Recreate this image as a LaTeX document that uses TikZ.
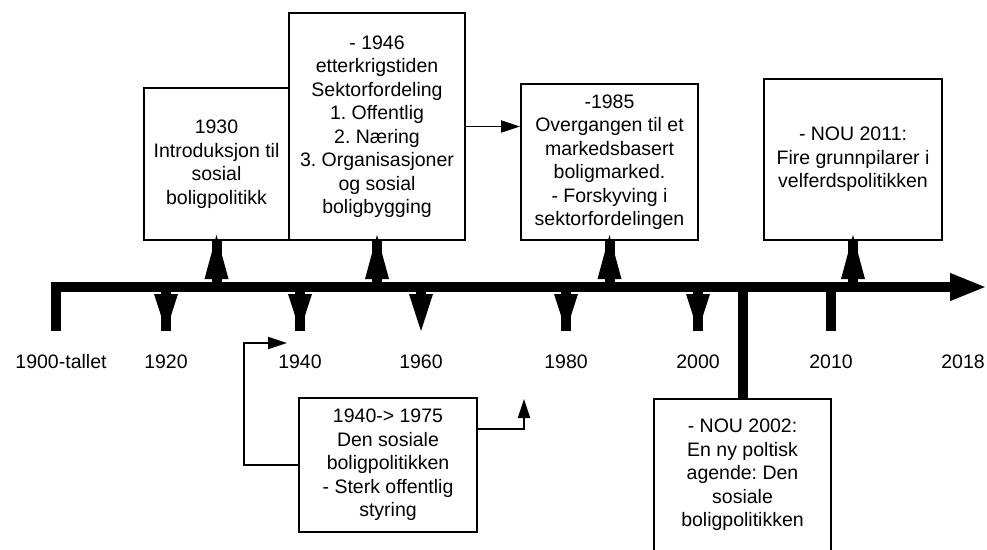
\documentclass[tikz,border=0pt]{standalone}
\usepackage{fontspec}
\setmainfont{Liberation Sans}
\usetikzlibrary{arrows.meta}
\frenchspacing
\begin{document}
\begin{tikzpicture}[x=1pt,y=-1pt,
  box/.style={draw=black,line width=1.8pt,rectangle,inner sep=0pt,align=center,
    font=\fontsize{19.5}{23.5}\selectfont\frenchspacing},
  year/.style={inner sep=0pt,font=\fontsize{19.5}{23.5}\selectfont},
  conn/.style={line width=1.8pt,-{Triangle[length=19pt,width=12pt]}},
  thick/.style={line width=10pt},
]
\useasboundingbox (0,0) rectangle (987,549);
% boxes
\node[box,minimum width=145pt,minimum height=152pt] (b1930) at (216.5,164)
  {1930\\Introduksjon til\\sosial\\boligpolitikk};
\node[box,minimum width=176pt,minimum height=227pt] (b1946) at (377,126.5)
  {- 1946\\etterkrigstiden\\Sektorfordeling\\1. Offentlig\\2. Næring\\3. Organisasjoner\\og sosial\\boligbygging};
\node[box,minimum width=177pt,minimum height=156pt] (b1985) at (609.5,162)
  {-1985\\Overgangen til et\\markedsbasert\\boligmarked.\\- Forskyving i\\sektorfordelingen};
\node[box,minimum width=178pt,minimum height=161pt] (b2011) at (853,159.5)
  {- NOU 2011:\\Fire grunnpilarer i\\velferdspolitikken};
\node[box,minimum width=178pt,minimum height=134pt] (b1940) at (388,465)
  {1940-> 1975\\Den sosiale\\boligpolitikken\\- Sterk offentlig\\styring};
\node[box,minimum width=177pt,minimum height=152pt] (b2002) at (742.5,475)
  {- NOU 2002:\\En ny poltisk\\agende: Den\\sosiale\\boligpolitikken};
% axis
\coordinate (axL) at (56,331);
\coordinate (axC) at (56,287);
\coordinate (axR) at (987,287);
\draw[thick,line join=miter,-{Triangle[length=37pt,width=25pt]}] (axL) -- (axC) -- (axR);
% down ticks with heads
\foreach \x in {166,300,566,698}{
  \draw[thick] (\x,290) -- (\x,331);
  \fill (\x-12,294) -- (\x+12,294) -- (\x,331) -- cycle;
}
\draw[thick] (421,290) -- (421,294);
\fill (421-12,294) -- (421+12,294) -- (421,331) -- cycle;
\draw[thick] (831,290) -- (831,331);
% up arrows to boxes
\foreach \b in {b1930,b1946,b1985,b2011}{
  \draw[thick] (\b.south) -- (\b.south |- axC);
  \fill ([xshift=-12pt]\b.south |- 0,279) -- ([xshift=12pt]\b.south |- 0,279) -- ([yshift=6pt]\b.south) -- cycle;
}
% stem to NOU 2002
\draw[thick] (b2002.north |- axC) -- (b2002.north);
% thin connectors
\draw[conn] (b1946.east) -- (b1985.west |- b1946.east);
\coordinate (c1) at (287,343);
\coordinate (c2) at (524,399);
\draw[conn] (b1940.west) -- (244,465) |- (c1);
\draw[conn] (b1940.east |- 0,429) -| (c2);
% year labels
\node[year] (y1900) at (61,362) {1900-tallet};
\node[year] (y1920) at (166,362) {1920};
\node[year] (y1940) at (300,362) {1940};
\node[year] (y1960) at (421,362) {1960};
\node[year] (y1980) at (566,362) {1980};
\node[year] (y2000) at (698,362) {2000};
\node[year] (y2010) at (831,362) {2010};
\node[year] (y2018) at (963,362) {2018};
\end{tikzpicture}
\end{document}
